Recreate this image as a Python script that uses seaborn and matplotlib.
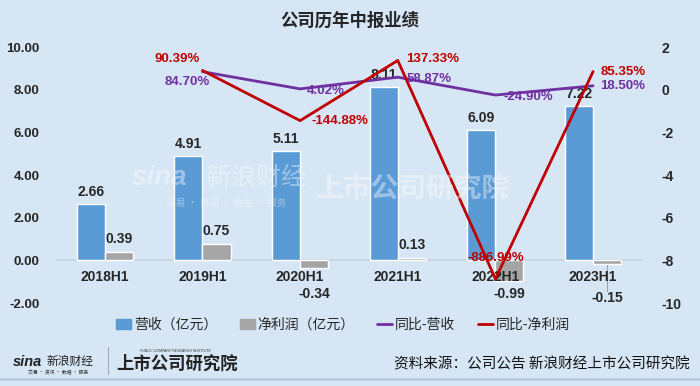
import numpy as np
import pandas as pd
import matplotlib.pyplot as plt
import seaborn as sns
from matplotlib.patches import Patch
from matplotlib.lines import Line2D

periods = ['2018H1', '2019H1', '2020H1', '2021H1', '2022H1', '2023H1']
revenue = [2.66, 4.91, 5.11, 8.11, 6.09, 7.22]
profit = [0.39, 0.75, -0.34, 0.13, -0.99, -0.15]
yoy_periods = ['2019H1', '2020H1', '2021H1', '2022H1', '2023H1']
yoy_revenue = [0.8470, 0.0402, 0.5887, -0.2490, 0.1850]
yoy_profit = [0.9039, -1.4488, 1.3733, -8.8699, 0.8535]

blue = '#5b9bd5'
grey = '#a5a5a5'
purple = '#7030a0'
red = '#c00000'
bg = '#d6e6f4'

sns.set_theme(style='white')
plt.rcParams['font.family'] = ['Liberation Sans', 'Noto Sans CJK SC']
plt.rcParams['axes.unicode_minus'] = False

bars = pd.DataFrame({
    'period': periods * 2,
    'metric': ['营收（亿元）'] * 6 + ['净利润（亿元）'] * 6,
    'value': revenue + profit,
})
pos = {p: i for i, p in enumerate(periods)}
lines = pd.DataFrame({
    'x': [pos[p] for p in yoy_periods] * 2,
    'value': yoy_revenue + yoy_profit,
    'metric': ['同比-营收'] * 5 + ['同比-净利润'] * 5,
})

fig = plt.figure(figsize=(7, 3.86), dpi=100, facecolor=bg)

# faint watermark behind the plot
fig.text(0.228, 0.54, 'sina', fontsize=20, color='white', alpha=0.4,
         fontweight='bold', style='italic', ha='center', va='center', zorder=0)
fig.text(0.366, 0.54, '新浪财经', fontsize=18, color='white', alpha=0.4,
         ha='center', va='center', family=['Noto Sans CJK SC'], zorder=0)
fig.text(0.323, 0.474, '交易 · 资讯 · 数据 · 服务', fontsize=7, color='white', alpha=0.4,
         ha='center', va='center', family=['Noto Sans CJK SC'], zorder=0)
fig.text(0.59, 0.512, '上市公司研究院', fontsize=20, color='white', alpha=0.4,
         fontweight='bold', ha='center', va='center', style='italic',
         family=['Noto Sans CJK SC'], zorder=0)

ax = fig.add_axes([0.08, 0.215, 0.837, 0.663])
ax.patch.set_alpha(0)
sns.barplot(data=bars, x='period', y='value', hue='metric', palette=[blue, grey],
            width=0.575, ax=ax, legend=False, saturation=1)
ax.set_ylim(-2, 10)
ax.set_xlim(-0.5, 5.5)
ax.set_yticks(np.arange(-2, 10.1, 2))
ax.set_yticklabels([f'{v:.2f}' for v in np.arange(-2, 10.1, 2)], fontsize=9.5, fontweight='bold')
ax.set_xticks([])
ax.set_xlabel('')
ax.set_ylabel('')
ax.tick_params(axis='y', length=0, pad=12)
for s in ax.spines.values():
    s.set_visible(False)
ax.axhline(0, color='#c5d3df', lw=1.2, zorder=0.5)

for i, p in enumerate(periods):
    ax.text(i, -0.8, p, ha='center', va='center', fontsize=10, fontweight='bold')

bw = 0.575 / 2
for i, v in enumerate(revenue):
    ax.annotate(f'{v:.2f}', (i - bw / 2, v), xytext=(0, 12), textcoords='offset pixels',
                ha='center', va='center', fontsize=10, fontweight='bold')
for i, v in enumerate(profit):
    if v >= 0:
        ax.annotate(f'{v:.2f}', (i + bw / 2, v), xytext=(0, 13), textcoords='offset pixels',
                    ha='center', va='center', fontsize=10, fontweight='bold')
    else:
        ly = -1.6 if v < -0.2 else -1.78
        ax.text(i + bw / 2, ly, f'{v:.2f}', ha='center', va='center', fontsize=10, fontweight='bold')
        if v > -0.2:
            ax.plot([i + bw / 2] * 2, [v - 0.05, ly + 0.35], color='#a0a0a0', lw=0.8)

ax2 = ax.twinx()
sns.lineplot(data=lines, x='x', y='value', hue='metric', palette=[purple, red],
             linewidth=2, ax=ax2, legend=False)
ax2.set_ylim(-10, 2)
ax2.set_xlim(-0.5, 5.5)
ax2.set_yticks(np.arange(-10, 2.1, 2))
ax2.set_yticklabels([f'{int(v)}' for v in np.arange(-10, 2.1, 2)], fontsize=10, fontweight='bold')
ax2.tick_params(axis='y', length=0, pad=14)
ax2.set_xlabel('')
ax2.set_ylabel('')
for s in ax2.spines.values():
    s.set_visible(False)

rev_off = [(-15, -10), (26, -2), (31, -2), (33, -2), (30, 0)]
pro_off = [(-25, 11), (40, 0), (35, 1), (0, 21), (30, 0)]
for k, p in enumerate(yoy_periods):
    x = pos[p]
    ax2.annotate(f'{yoy_revenue[k] * 100:.2f}%', (x, yoy_revenue[k]), xytext=rev_off[k],
                 textcoords='offset pixels', ha='center', va='center', color=purple,
                 fontsize=9.5, fontweight='bold')
    ax2.annotate(f'{yoy_profit[k] * 100:.2f}%', (x, yoy_profit[k]), xytext=pro_off[k],
                 textcoords='offset pixels', ha='center', va='center', color=red,
                 fontsize=9.5, fontweight='bold')

fig.text(0.5, 0.947, '公司历年中报业绩', fontsize=12.5, fontweight='bold',
         ha='center', va='center', family=['Noto Sans CJK SC'])

handles = [Patch(color=blue), Patch(color=grey),
           Line2D([], [], color=purple, lw=2), Line2D([], [], color=red, lw=2)]
labels = ['营收（亿元）', '净利润（亿元）', '同比-营收', '同比-净利润']
fig.legend(handles, labels, loc='center', bbox_to_anchor=(0.49, 0.158), ncol=4,
           frameon=False, prop={'family': 'Noto Sans CJK SC', 'size': 10},
           handlelength=1.1, handletextpad=0.2, columnspacing=1.6)

# footer logos and source
fig.text(0.018, 0.062, 'sina', fontsize=10.5, fontweight='bold', style='italic',
         color='#222222', ha='left', va='center')
fig.text(0.066, 0.064, '新浪财经', fontsize=8.5, color='#222222', ha='left', va='center',
         family=['Noto Sans CJK SC'])
fig.text(0.04, 0.034, '交易 · 资讯 · 数据 · 服务', fontsize=3.5, color='#333333', ha='left', va='center',
         family=['Noto Sans CJK SC'])
fig.add_artist(Line2D([0.154, 0.154], [0.03, 0.1], color='#aaaaaa', lw=0.8))
fig.text(0.166, 0.058, '上市公司研究院', fontsize=12.5, fontweight='bold', style='italic',
         color='#222222', ha='left', va='center', family=['Noto Sans CJK SC'])
fig.text(0.2, 0.09, 'PUBLIC COMPANY RESEARCH INSTITUTE', fontsize=2.5, style='italic',
         color='#333333', ha='left', va='center')
fig.text(0.985, 0.057, '资料来源：公司公告 新浪财经上市公司研究院', fontsize=10.5,
         color='#111111', ha='right', va='center', family=['Noto Sans CJK SC'])
fig.add_artist(Line2D([0, 1], [0.018, 0.018], color='#b6cbe0', lw=2))

fig.savefig('out.png', dpi=100, facecolor=bg)
